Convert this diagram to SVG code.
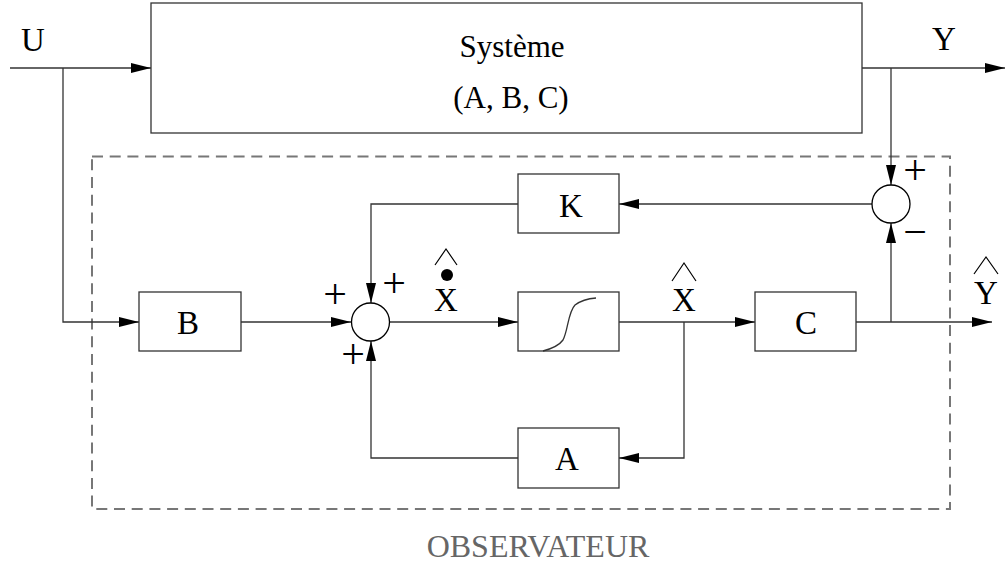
<svg xmlns="http://www.w3.org/2000/svg" width="1006" height="569" viewBox="0 0 1006 569">
<style>
.box{fill:#fff;stroke:#333;stroke-width:1.3}
.ln{fill:none;stroke:#333;stroke-width:1.3}
.arr{fill:none;stroke:#333;stroke-width:1.3;marker-end:url(#ah)}
.t{font-family:"Liberation Serif","Times New Roman",serif;font-size:33px;fill:#000;text-anchor:middle}
.s{font-family:"Liberation Serif","Times New Roman",serif;font-size:42px;fill:#000;text-anchor:middle}
.hat{fill:none;stroke:#000;stroke-width:1.2}
.sum{fill:#fff;stroke:#000;stroke-width:1.3}
</style>
<defs>
<marker id="ah" markerWidth="20" markerHeight="10" refX="20" refY="5" orient="auto" markerUnits="userSpaceOnUse">
<path d="M0,0 L20,5 L0,10 Z" fill="#000"/>
</marker>
</defs>
<rect width="1006" height="569" fill="#fff"/>

<g id="observateur">
<rect x="92" y="156.5" width="858" height="352.5" fill="none" stroke="#777" stroke-width="2" stroke-dasharray="11,6.7"/>
<text x="538" y="557" class="t" style="font-size:32px;fill:#666">OBSERVATEUR</text>
</g>

<g id="connectors">
<path class="arr" d="M10,68 H151"/>
<path class="arr" d="M63,68 V322 H139"/>
<path class="arr" d="M862,68 H1005"/>
<path class="arr" d="M891,68 V185"/>
<path class="arr" d="M241,322 H351"/>
<path class="arr" d="M389,322 H518"/>
<path class="arr" d="M619,322 H755"/>
<path class="arr" d="M684,322 V458 H619"/>
<path class="arr" d="M518,458 H371 V341"/>
<path class="arr" d="M518,204 H371 V303"/>
<path class="arr" d="M872,204 H619"/>
<path class="arr" d="M856,322 H992"/>
<path class="arr" d="M891,322 V223"/>
</g>

<g id="systeme">
<rect class="box" x="151" y="3" width="711" height="130"/>
<text x="512" y="57" class="t" style="font-size:31px">Système</text>
<text x="511" y="108" class="t" style="font-size:31px">(A, B, C)</text>
</g>

<g id="B">
<rect class="box" x="139" y="292" width="102" height="59"/>
<text x="188" y="334" class="t">B</text>
</g>

<g id="integrateur">
<rect class="box" x="518" y="292" width="101" height="59"/>
<path class="ln" d="M543,351 Q558,347 563,340 C568,331 568,312 575,305 Q583,299 596,298"/>
</g>

<g id="C">
<rect class="box" x="755" y="292" width="101" height="59"/>
<text x="806" y="334" class="t">C</text>
</g>

<g id="K">
<rect class="box" x="518" y="174" width="101" height="59"/>
<text x="571" y="217" class="t">K</text>
</g>

<g id="A">
<rect class="box" x="518" y="428" width="101" height="60"/>
<text x="567" y="470" class="t">A</text>
</g>

<g id="sum1">
<circle class="sum" cx="370.5" cy="322" r="19"/>
<text x="394" y="297" class="s">+</text>
<text x="335" y="308" class="s">+</text>
<text x="353" y="368" class="s">+</text>
</g>

<g id="sum2">
<circle class="sum" cx="891" cy="204" r="19"/>
<text x="915" y="184" class="s">+</text>
<text x="915" y="246" class="s">−</text>
</g>

<g id="labels">
<text x="33" y="51" class="t">U</text>
<text x="944" y="50" class="t">Y</text>
<text x="446" y="311" class="t">X</text>
<circle cx="447" cy="275" r="6" fill="#000"/>
<path class="hat" d="M435,265 L446,249 L457,265"/>
<text x="684" y="311" class="t">X</text>
<path class="hat" d="M672,281 L684,263 L696,281"/>
<text x="986" y="304" class="t">Y</text>
<path class="hat" d="M974,274 L986,257 L998,274"/>
</g>
</svg>
